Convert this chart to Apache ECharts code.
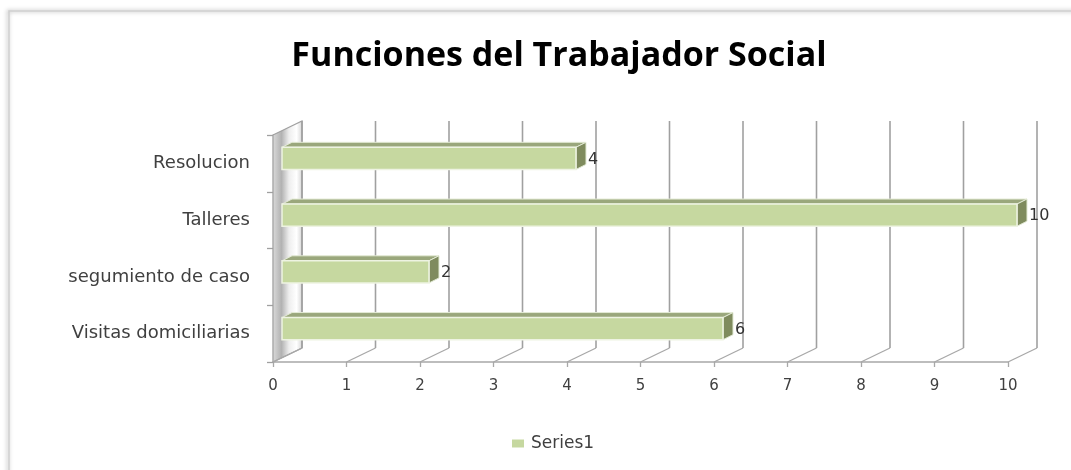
<!DOCTYPE html>
<html><head><meta charset="utf-8">
<script src="https://cdn.jsdelivr.net/npm/echarts@6/dist/echarts.min.js"></script>
<style>html,body{margin:0;padding:0;background:#fff}#c{width:1071px;height:470px}</style>
</head><body><div id="c"></div>
<script>
const categories = ['Visitas domiciliarias', 'segumiento de caso', 'Talleres', 'Resolucion'];
const values = [6, 2, 10, 4];
const xTicks = [0, 1, 2, 3, 4, 5, 6, 7, 8, 9, 10];
const seriesName = 'Series1';
const titleText = 'Funciones del Trabajador Social';

const DX = 29, DY = -14;   // depth of the 3D box
const BX = 9, BY = -5;     // bar front-face offset into the box
const BDX = 10, BDY = -5;  // bar depth

const chart = echarts.init(document.getElementById('c'), null, { renderer: 'canvas' });

function renderWall(params, api) {
  const cs = params.coordSys;
  const x = cs.x, y = cs.y, h = cs.height;
  return {
    type: 'polygon',
    shape: { points: [[x, y], [x + DX, y + DY], [x + DX, y + h + DY], [x, y + h]] },
    style: {
      fill: new echarts.graphic.LinearGradient(0, 0, 1, 0, [
        { offset: 0, color: '#dcdcdc' },
        { offset: 0.3, color: '#b2b2b2' },
        { offset: 0.55, color: '#eeeeee' },
        { offset: 0.8, color: '#ffffff' },
        { offset: 1, color: '#d4d4d4' }
      ]),
      stroke: '#a0a0a0', lineWidth: 1.2
    }
  };
}

function renderGridLine(params, api) {
  const cs = params.coordSys;
  const v = api.value(0);
  const x = api.coord([v, 0])[0];
  const yb = cs.y + cs.height, yt = cs.y;
  return {
    type: 'group', children: [
      { type: 'line', shape: { x1: x, y1: yb, x2: x + DX, y2: yb + DY }, style: { stroke: '#a8a8a8', lineWidth: 1.3 } },
      { type: 'line', shape: { x1: x + DX, y1: yb + DY, x2: x + DX, y2: yt + DY }, style: { stroke: '#a0a0a0', lineWidth: 1.6 } }
    ]
  };
}

function renderBar(params, api) {
  const idx = api.value(0);
  const v = api.value(1);
  const p0 = api.coord([0, idx]);
  const p1 = api.coord([v, idx]);
  const band = api.size([0, 1])[1];
  const h = band * 0.39;
  const x0 = p0[0] + BX, x1 = p1[0] + BX;
  const yT = p0[1] + BY - h / 2, yB = yT + h;
  return {
    type: 'group', children: [
      { type: 'polygon', shape: { points: [[x0, yT], [x1, yT], [x1 + BDX, yT + BDY], [x0 + BDX, yT + BDY]] },
        style: { fill: '#9aa77c', stroke: '#e3ead5', lineWidth: 1 } },
      { type: 'polygon', shape: { points: [[x1, yT], [x1 + BDX, yT + BDY], [x1 + BDX, yB + BDY], [x1, yB]] },
        style: { fill: '#7f8b5e', stroke: '#e3ead5', lineWidth: 1 } },
      { type: 'rect', shape: { x: x0, y: yT, width: x1 - x0, height: h },
        style: { fill: '#c6d8a0', stroke: '#eef3e2', lineWidth: 1.5 } },
      { type: 'text', x: x1 + BDX + 2, y: p0[1] + BY + 1,
        style: { text: String(v), fill: '#333333', font: '16px "DejaVu Sans"', verticalAlign: 'middle', align: 'left' } }
    ]
  };
}

chart.setOption({
  animation: false,
  backgroundColor: '#ffffff',
  title: {
    text: titleText,
    left: 554, top: 34, textAlign: 'center',
    textStyle: { fontFamily: 'Open Sans', fontWeight: 'bold', fontSize: 34, color: '#000000' }
  },
  legend: {
    left: 507, top: 430,
    itemWidth: 12, itemHeight: 8, itemGap: 7, icon: 'rect',
    textStyle: { fontFamily: 'DejaVu Sans', fontSize: 17, color: '#404040', padding: [0, 0, 0, 2] },
    data: [seriesName]
  },
  grid: { left: 273, right: 63, top: 135, bottom: 108 },
  xAxis: {
    type: 'value', min: 0, max: 10, interval: 1,
    axisLine: { show: true, lineStyle: { color: '#a8a8a8', width: 1.5 } },
    axisTick: { show: true, length: 5, lineStyle: { color: '#a8a8a8', width: 1.3 } },
    splitLine: { show: false },
    axisLabel: { margin: 17, fontFamily: 'DejaVu Sans', fontSize: 15, color: '#404040',
      formatter: function (v) { return String(xTicks[xTicks.indexOf(v)]); } }
  },
  yAxis: {
    type: 'category', data: categories,
    axisLine: { show: true, lineStyle: { color: '#a0a0a0', width: 1.3 } },
    axisTick: { show: true, length: 6, lineStyle: { color: '#a0a0a0', width: 1.3 } },
    axisLabel: { margin: 23, fontFamily: 'DejaVu Sans', fontSize: 18, color: '#404040', padding: [5, 0, 0, 0] }
  },
  graphic: [{
    type: 'rect', shape: { x: 9, y: 11, width: 1100, height: 500 },
    style: { fill: 'none', stroke: '#cfcfcf', lineWidth: 1.5, shadowBlur: 4, shadowColor: 'rgba(0,0,0,0.35)', shadowOffsetX: -1, shadowOffsetY: 0 },
    z: -10, silent: true
  }],
  series: [
    { type: 'custom', name: '_wall', renderItem: renderWall, data: [[0]], z: 1, silent: true },
    { type: 'custom', name: '_grid', renderItem: renderGridLine, data: xTicks.map(v => [v]), encode: { x: 0 }, z: 1, silent: true },
    { type: 'custom', name: seriesName, renderItem: renderBar, itemStyle: { color: '#c6d8a0' },
      data: values.map((v, i) => [i, v]), encode: { y: 0, x: 1 }, z: 3 }
  ]
});
</script>
</body></html>
